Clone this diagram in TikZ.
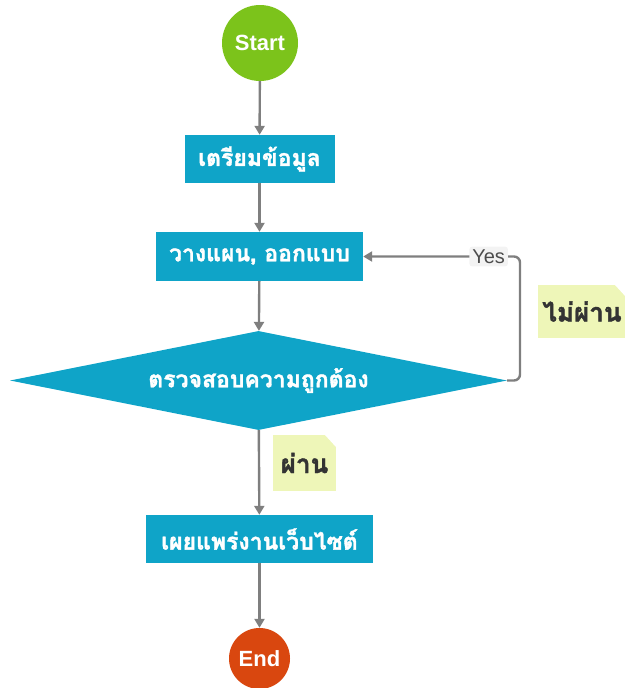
\documentclass[tikz,border=0pt]{standalone}
\usepackage{fontspec}
\setmainfont{Liberation Sans}
\newfontfamily\thai[Script=Thai,BoldFeatures={FakeBold=1.5}]{Loma}
\usetikzlibrary{shapes.geometric,arrows.meta}
\definecolor{startgreen}{HTML}{7CC31B}
\definecolor{boxblue}{HTML}{0FA4C8}
\definecolor{endred}{HTML}{D9470F}
\definecolor{notecol}{HTML}{EEF6B8}
\definecolor{linegray}{HTML}{7F7F7F}
\definecolor{labelbg}{HTML}{F3F3F3}
\tikzset{
  x=1pt,y=-1pt,
  terminal/.style={circle,inner sep=0pt,text=white,font=\bfseries\fontsize{22}{24}\selectfont},
  procbox/.style={rectangle,fill=boxblue,inner sep=0pt,minimum height=48pt,text=white,font=\thai\bfseries\fontsize{23}{26}\selectfont},
  decision/.style={diamond,shape aspect=5,fill=boxblue,inner sep=0pt,minimum width=497pt,minimum height=99pt,text=white,font=\thai\bfseries\fontsize{23}{26}\selectfont},
  arr/.style={draw=linegray,line width=2.4pt,-{Triangle[length=9pt,width=10pt]}},
  yeslabel/.style={fill=labelbg,rounded corners=3pt,inner sep=3pt,text=black!70,font=\fontsize{20}{22}\selectfont},
  notebox/.style={rectangle,fill=notecol,inner sep=0pt,text=black!80,font=\thai\bfseries\fontsize{26}{28}\selectfont,
    path picture={\fill[white] ([xshift=-11pt]path picture bounding box.north east) -- (path picture bounding box.north east) -- ([yshift=-12pt]path picture bounding box.north east) -- cycle;}}
}
\begin{document}
\begin{tikzpicture}
\useasboundingbox (0,0) rectangle (624,688);
\node[terminal,fill=startgreen,minimum size=76pt] (start) at (260,43) {Start};
\node[procbox,minimum width=150pt] (prep) at (259.5,159) {เตรียมข้อมูล};
\node[procbox,minimum width=207pt,minimum height=49pt] (plan) at (259.5,256.5) {วางแผน, ออกแบบ};
\node[decision] (check) at (258.5,380.5) {ตรวจสอบความถูกต้อง};
\node[procbox,minimum width=227pt] (pub) at (259.5,539) {เผยแพร่งานเว็บไซต์};
\node[terminal,fill=endred,minimum size=61pt] (end) at (259.5,658.5) {End};
\node[notebox,minimum width=88pt,minimum height=53pt] (fail) at (582,311.5) {ไม่ผ่าน};
\node[notebox,minimum width=63pt,minimum height=56pt] (pass) at (304.5,463) {ผ่าน};
\coordinate (loopx) at (520,0);
\draw[arr] (start) -- (prep);
\draw[arr] (prep) -- (plan);
\draw[arr] (plan) -- (check);
\draw[arr] (check) -- (pub);
\draw[arr] (pub) -- (end);
\draw[arr,rounded corners=6pt] (check.east) -- (check.east -| loopx) |- node[yeslabel,pos=0.6] {Yes} (plan.east);
\end{tikzpicture}
\end{document}
